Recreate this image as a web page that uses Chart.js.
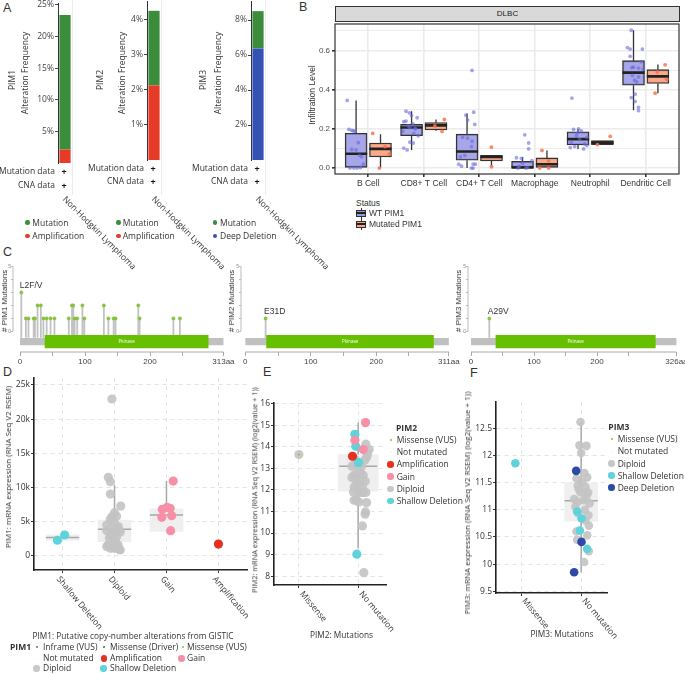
<!DOCTYPE html>
<html><head><meta charset="utf-8">
<script src="https://cdn.jsdelivr.net/npm/chart.js@4.4.0/dist/chart.umd.min.js"></script>
<style>
body{margin:0;background:#fff;}
#root{position:relative;width:685px;height:674px;overflow:hidden;font-family:'Open Sans',sans-serif;color:#333;background:#fff;}
.t{position:absolute;white-space:nowrap;line-height:1;}
canvas{position:absolute;}
</style></head><body><div id="root"></div>
<script>
// ================= DATA =================
// Panel A: cBioPortal alteration frequency (%)
const A_genes = ['PIM1', 'PIM2', 'PIM3'];
const A_cancer = ['Non-Hodgkin Lymphoma'];
const A_mutation = [21.28, 2.13, 2.13];
const A_cna = [2.13, 2.13, 6.38];
const A_cnaType = ['Amplification', 'Amplification', 'Deep Deletion'];
const A_yMax = [25.3, 4.54, 9.09];
const A_ticks = [[5, 10, 15, 20, 25], [1, 2, 3, 4], [2, 4, 6, 8]];

// Panel B: TIMER infiltration (box stats: [lowWhisker, q1, median, q3, highWhisker])
const B_cells = ['B Cell', 'CD8+ T Cell', 'CD4+ T Cell', 'Macrophage', 'Neutrophil', 'Dendritic Cell'];
const B_yTicks = [0, 0.1, 0.2, 0.3, 0.4, 0.5, 0.6, 0.7];
const B_wtBox = [
  [0.0, 0.0, 0.073, 0.178, 0.345],
  [0.093, 0.165, 0.207, 0.223, 0.29],
  [0.0, 0.04, 0.085, 0.173, 0.278],
  [0.0, 0.0, 0.003, 0.035, 0.057],
  [0.098, 0.118, 0.148, 0.185, 0.2],
  [0.295, 0.423, 0.487, 0.548, 0.703]
];
const B_mutBox = [
  [0.0, 0.057, 0.098, 0.128, 0.173],
  [0.19, 0.195, 0.218, 0.232, 0.248],
  [0.007, 0.037, 0.057, 0.065, 0.065],
  [0.0, 0.0, 0.02, 0.052, 0.09],
  [0.12, 0.12, 0.13, 0.14, 0.14],
  [0.382, 0.432, 0.468, 0.502, 0.528]
];
// jittered samples: [offset from category centre, value]
const B_wtPts = [
  [[-0.38,0.345],[-0.35,0.198],[-0.30,0.192],[-0.27,0.19],[-0.24,0.188],[-0.18,0.13],[-0.30,0.095],[-0.22,0.093],[-0.16,0.065],[-0.12,0.058],[-0.09,0.02],[-0.33,0.0],[-0.26,0.0],[-0.14,0.003],[-0.2,0.0]],
  [[-0.32,0.29],[-0.26,0.282],[-0.22,0.268],[-0.12,0.257],[-0.36,0.237],[-0.32,0.24],[-0.2,0.227],[-0.25,0.207],[-0.16,0.203],[-0.38,0.187],[-0.18,0.177],[-0.10,0.165],[-0.25,0.132],[-0.19,0.128],[-0.36,0.102],[-0.30,0.093],[-0.28,0.215],[-0.15,0.2]],
  [[-0.13,0.498],[-0.24,0.27],[-0.10,0.285],[-0.21,0.245],[-0.08,0.223],[-0.30,0.157],[-0.21,0.153],[-0.13,0.137],[-0.14,0.11],[-0.26,0.065],[-0.34,0.057],[-0.37,0.02],[-0.11,0.02],[-0.07,0.02],[-0.32,0.01],[-0.14,0.0],[-0.11,0.0]],
  [[-0.18,0.17],[-0.11,0.128],[-0.11,0.098],[-0.33,0.053],[-0.24,0.05],[-0.05,0.038],[-0.22,0.025],[-0.28,0.01],[-0.13,0.003],[-0.3,0.0],[-0.16,0.0]],
  [[-0.33,0.357],[-0.30,0.198],[-0.21,0.2],[-0.16,0.19],[-0.25,0.165],[-0.06,0.157],[-0.19,0.145],[-0.34,0.132],[-0.10,0.123],[-0.28,0.11],[-0.12,0.098],[-0.06,0.115],[-0.36,0.105],[-0.23,0.18]],
  [[-0.26,0.703],[-0.33,0.615],[-0.28,0.607],[-0.06,0.607],[-0.28,0.57],[-0.08,0.543],[-0.25,0.513],[-0.22,0.515],[-0.13,0.51],[-0.05,0.505],[-0.24,0.473],[-0.13,0.465],[-0.2,0.448],[-0.16,0.44],[-0.26,0.36],[-0.19,0.377],[-0.19,0.34],[-0.13,0.31],[-0.13,0.293]]
];
const B_mutPts = [
  [[0.08,0.177],[0.2,0.0],[0.38,0.072],[0.3,0.11]],
  [[0.37,0.248],[0.33,0.187],[0.2,0.215]],
  [[0.22,0.107],[0.22,0.007]],
  [[0.13,0.09],[0.25,0.037],[0.09,0.0],[0.25,0.0]],
  [[0.36,0.162],[0.13,0.12]],
  [[0.35,0.527],[0.21,0.49],[0.38,0.453],[0.17,0.382]]
];

// Panel C: lollipop plots
const C_genes = ['PIM1', 'PIM2', 'PIM3'];
const C_length = [313, 311, 326];
const C_kinase = [[38, 290], [32, 288], [39, 293]];
const C_pim1Pos = [2,9,13,21,23,27,32,36,41,47,53,75,80,82,84,88,96,99,129,136,144,147,182,184,236,246];
const C_pim1Cnt = [3,1,1,1,1,2,2,1,1,1,1,1,2,2,1,1,2,1,2,1,1,1,2,1,1,1];
const C_pim2Pos = [31], C_pim2Cnt = [1];
const C_pim3Pos = [29], C_pim3Cnt = [1];
const C_topLabel = ['L2F/V', 'E31D', 'A29V'];
const C_xTicks = [0, 50, 100, 150, 200, 250];

// Panel D: PIM1 expression vs CNA
const D_cats = ['Shallow Deletion', 'Diploid', 'Gain', 'Amplification'];
const D_box = [[2300,2300,2700,3100,3100],[880,2090,3900,5260,10340],[3600,3600,6000,6900,10960],null];
const D_yTicks = [0, 5000, 10000, 15000, 20000, 25000];
const D_shallow = [[-0.10,2300],[0.04,3070]];
const D_diploid = [[-0.05,22950],[-0.12,11500],[-0.08,10870],[-0.08,9060],[0.12,7300],[0.0,6330],[-0.05,5750],[0.04,5800],[-0.08,5360],[-0.15,4530],[0.0,4780],[0.07,4300],[-0.05,4050],[-0.15,3700],[0.0,3400],[0.11,3500],[-0.08,3070],[0.04,2830],[-0.02,2340],[-0.12,1600],[0.07,1600],[-0.08,1120],[0.0,1120],[0.11,880],[-0.15,1400],[0.09,1000],[0.02,2000],[-0.1,2600],[0.08,3900]];
const D_gain = [[0.13,10960],[-0.08,6830],[0.01,7100],[0.07,6970],[-0.09,5660],[0.1,5900],[0.08,3700]];
const D_amp = [[0.0,1750]];

// Panel E: PIM2 expression vs mutation  ([category index + jitter, value])
const E_cats = ['Missense', 'No mutation'];
const E_box = [null, [9.3, 11.94, 13.1, 13.64, 15.12]];
const E_amp = [[0.905,13.56]];
const E_gain = [[1.124,15.12],[0.945,14.3],[1.085,13.87]];
const E_shallow = [[0.945,14.58],[0.96,14.02],[1.005,13.27],[0.978,9.02]];
const E_diploid = [[0,13.64],[1.13,14.12],[1.158,13.64],[1.113,13.38],[1.057,13.1],[0.894,13.1],[1.0,12.91],[0.93,12.68],[1.085,12.68],[0.96,12.57],[0.894,12.57],[1.03,12.45],[0.972,12.26],[1.073,12.14],[0.933,12.14],[1.0,11.91],[0.93,11.52],[1.04,11.88],[1.085,11.88],[1.13,11.88],[0.972,11.52],[1.01,11.44],[1.141,11.41],[1.124,10.98],[1.118,10.87],[1.073,10.33],[1.096,8.16],[1.186,13.87],[1.141,13.5],[0.96,13.38],[1.04,12.8],[1.12,12.4],[0.92,11.9]];
const E_missense = [[0,13.64]];

// Panel F: PIM3 expression vs mutation
const F_cats = ['Missense', 'No mutation'];
const F_box = [null, [9.85, 10.79, 11.17, 11.5, 12.61]];
const F_yTicks = [9.5, 10, 10.5, 11, 11.5, 12, 12.5];
const F_shallow = [[-0.095,11.86],[0.933,10.97],[1.006,10.84],[0.978,10.62],[1.1,10.28]];
const F_deep = [[0.917,11.72],[1.006,10.41],[0.883,9.85]];
const F_diploid = [[0.989,12.62],[0.972,12.19],[1.089,12.18],[1.0,12.05],[1.055,11.68],[0.922,11.58],[1.1,11.6],[1.017,11.52],[0.944,11.45],[1.072,11.42],[0.989,11.32],[1.117,11.32],[1.089,11.25],[0.883,11.2],[0.944,11.15],[1.044,11.18],[1.139,11.12],[0.905,11.06],[0.95,10.94],[1.072,10.8],[1.128,10.71],[0.922,10.6],[1.1,10.53],[0.933,10.45],[1.128,10.24],[1.05,10.04],[1.06,11.0],[0.96,11.38],[1.12,10.9]];

// ================= HELPERS =================
const root = document.getElementById('root');
const OS = "'Open Sans', sans-serif", LS = "'Liberation Sans', Arial, sans-serif";
const COL = {mut:'#3b8c3b', amp:'#e63b26', del:'#3452b4', gain:'#f78fa7', shallow:'#5fd3dc', diploid:'#c8c8c8', deep:'#2d4aa8', red:'#e5311f'};

function T(str, x, y, o = {}) {
  const d = document.createElement('div');
  d.className = 't'; d.textContent = str;
  d.style.fontSize = (o.size || 8.5) + 'px';
  d.style.fontFamily = o.family || OS;
  if (o.bold) d.style.fontWeight = 'bold';
  d.style.color = o.color || '#333';
  d.style.left = x + 'px'; d.style.top = y + 'px';
  const ax = o.align === 'right' ? '-100%' : o.align === 'center' ? '-50%' : '0';
  d.style.transform = o.rot ? `translate(-50%,-50%) rotate(${o.rot}deg)` : `translate(${ax},-50%)`;
  root.appendChild(d);
}
function dot(x, y, r, color) {
  const d = document.createElement('div');
  d.style.cssText = `position:absolute;left:${x - r}px;top:${y - r}px;width:${2 * r}px;height:${2 * r}px;border-radius:50%;background:${color};`;
  root.appendChild(d);
}
function rect(x, y, w, h, css) {
  const d = document.createElement('div');
  d.style.cssText = `position:absolute;left:${x}px;top:${y}px;width:${w}px;height:${h}px;box-sizing:border-box;${css}`;
  root.appendChild(d);
  return d;
}
function segData(list) {
  const d = [];
  list.forEach(([x1, y1, x2, y2]) => { d.push({x: x1, y: y1}, {x: x2, y: y2}, {x: x2, y: null}); });
  return d;
}
function lineSet(list, color, width, order, extra) {
  return Object.assign({type: 'scatter', showLine: true, data: segData(list), borderColor: color, borderWidth: width,
    pointRadius: 0, spanGaps: false, order: order, borderCapStyle: 'butt'}, extra || {});
}
function ptSet(pts, color, r, order, extra) {
  return Object.assign({type: 'scatter', data: pts.map(p => ({x: p[0], y: p[1]})), backgroundColor: color,
    borderWidth: 0, pointRadius: r, order: order}, extra || {});
}

const annot = {
  id: 'annot',
  afterDatasetsDraw(chart, a, o) {
    if (!o || !o.items) return;
    const ctx = chart.ctx;
    o.items.forEach(it => {
      const x = chart.scales.x.getPixelForValue(it.x) + (it.dx || 0);
      const y = chart.scales.y.getPixelForValue(it.y) + (it.dy || 0);
      ctx.save(); ctx.font = it.font; ctx.fillStyle = it.color; ctx.textAlign = it.align || 'center'; ctx.textBaseline = 'middle';
      ctx.fillText(it.text, x, y); ctx.restore();
    });
  }
};
const rotLabels = {
  id: 'rotLabels',
  afterDraw(chart, a, o) {
    if (!o || !o.labels) return;
    const ctx = chart.ctx, xs = chart.scales.x, base = chart.chartArea.bottom;
    ctx.save(); ctx.font = o.font; ctx.fillStyle = o.color || '#333'; ctx.textAlign = 'left'; ctx.textBaseline = 'middle';
    o.labels.forEach((lab, i) => {
      const px = xs.getPixelForValue(i);
      ctx.save(); ctx.translate(px + o.dx, base + o.dy); ctx.rotate(o.angle * Math.PI / 180); ctx.fillText(lab, 0, 0); ctx.restore();
    });
    ctx.restore();
  }
};
const frame = {
  id: 'frame',
  afterDraw(chart, a, o) {
    if (!o || !o.color) return;
    const {left, top, right, bottom} = chart.chartArea, ctx = chart.ctx;
    ctx.save(); ctx.strokeStyle = o.color; ctx.lineWidth = o.width; ctx.strokeRect(left, top, right - left, bottom - top); ctx.restore();
  }
};
Chart.register(annot, rotLabels, frame);
Chart.defaults.font.family = OS;
Chart.defaults.color = '#333';

function mk(area, m, config) {
  const W = area.r - area.l + m.l + m.r, H = area.b - area.t + m.t + m.b;
  const c = document.createElement('canvas');
  c.width = W; c.height = H;
  c.style.left = (area.l - m.l) + 'px'; c.style.top = (area.t - m.t) + 'px';
  c.style.width = W + 'px'; c.style.height = H + 'px';
  root.appendChild(c);
  const o = config.options = config.options || {};
  o.responsive = false; o.animation = false; o.devicePixelRatio = 1;
  o.layout = {padding: {left: 0, top: m.t, right: m.r, bottom: 0}};
  o.plugins = Object.assign({legend: {display: false}, tooltip: {enabled: false}}, o.plugins || {});
  o.scales.x.afterFit = s => { s.height = m.b; s.paddingLeft = 0; s.paddingRight = 0; s.paddingTop = 0; s.paddingBottom = 0; };
  o.scales.y.afterFit = s => { s.width = m.l; s.paddingTop = 0; s.paddingBottom = 0; s.paddingLeft = 0; s.paddingRight = 0; };
  return new Chart(c, config);
}
function boxSets(stats, xStart, off, wUnits, thick, fill, stroke, medColor, lw, medW, orderBase) {
  const bars = [], wh = [], med = [];
  stats.forEach((s, i) => {
    if (!s) return;
    const c = xStart + i + off;
    bars.push({x: c, y: [s[1], s[3]]});
    wh.push([c, s[3], c, s[4]], [c, s[0], c, s[1]]);
    med.push([c - wUnits / 2, s[2], c + wUnits / 2, s[2]]);
  });
  return [
    {type: 'bar', data: bars, backgroundColor: fill, borderColor: stroke, borderWidth: stroke ? lw : 0, borderSkipped: false,
      barThickness: thick, grouped: false, order: orderBase + 2},
    lineSet(wh, stroke || medColor, lw, orderBase + 1),
    lineSet(med, medColor, medW, orderBase)
  ];
}

// ================= PANEL LETTERS =================
T('A', 3, 8, {size: 12.5, family: LS});
T('B', 299, 7, {size: 12.5, family: LS});
T('C', 3, 252, {size: 12.5, family: LS});
T('D', 3, 372, {size: 12.5, family: LS});
T('E', 263, 372, {size: 12.5, family: LS});
T('F', 470, 373, {size: 12.5, family: LS});

// ================= PANEL A =================
const A_lay = [{ax: 58, t: 3, b: 163, lab: [12, 25], my: 171}, {ax: 147, t: 1, b: 160, lab: [100, 121.7], my: 167.7}, {ax: 251, t: 1, b: 160, lab: [203, 218.3], my: 167.7}];
A_genes.forEach((g, k) => {
  const L = A_lay[k];
  rect(L.ax + 14, 0, 1, 195, 'background:#ececec;');
  mk({l: L.ax, t: L.t, r: L.ax + 14, b: L.b}, {l: 50, t: 8, r: 75, b: 110}, {
    type: 'bar',
    data: {labels: A_cancer, datasets: [
      {label: A_cnaType[k], data: [A_cna[k]], backgroundColor: k === 2 ? COL.del : COL.amp, barPercentage: 0.8, categoryPercentage: 1},
      {label: 'Mutation', data: [A_mutation[k]], backgroundColor: COL.mut, barPercentage: 0.8, categoryPercentage: 1}
    ]},
    options: {
      scales: {
        x: {stacked: true, ticks: {display: false}, grid: {display: false}, border: {display: false}},
        y: {stacked: true, min: 0, max: A_yMax[k],
          afterBuildTicks: s => { s.ticks = A_ticks[k].map(v => ({value: v})); },
          ticks: {callback: v => v + '%', font: {size: 8.5}, color: '#444', padding: 1},
          grid: {drawOnChartArea: false, tickLength: 3, tickColor: '#444'}, border: {color: '#333', width: 1}}
      },
      plugins: {rotLabels: {labels: A_cancer, angle: 45, dx: -1, dy: 36 + (k === 0 ? -1 : 2), font: "8.5px 'Open Sans'", color: '#333'}}
    }
  });
  T(g, L.lab[0], 80, {rot: -90, size: 8.5});
  T('Alteration Frequency', L.lab[1], 73, {rot: -90, size: 8.5});
  const ry = L.my;
  T('Mutation data', L.ax - 3, ry, {align: 'right', size: 8.5});
  T('CNA data', L.ax - 3, ry + 13.5, {align: 'right', size: 8.5});
  T('+', L.ax + 6, ry, {align: 'center', size: 9, bold: true, color: '#111'});
  T('+', L.ax + 6, ry + 13.5, {align: 'center', size: 9, bold: true, color: '#111'});
});
[[27.3, 32.3, COL.amp, 'Amplification'], [118.3, 122.7, COL.amp, 'Amplification'], [215, 220, COL.del, 'Deep Deletion']].forEach(r => {
  dot(r[0], 222.7, 2.3, COL.mut); T('Mutation', r[1], 222.7, {size: 8.5});
  dot(r[0], 236, 2.3, r[2]); T(r[3], r[1], 236, {size: 8.5});
});

// ================= PANEL B =================
rect(335, 6, 345, 16, 'background:#d9d9d9;border:1px solid #333;');
T('DLBC', 507.5, 13.5, {align: 'center', size: 8, family: LS, color: '#1a1a1a'});
T('Infiltration Level', 312, 95, {rot: -90, size: 8.5, family: LS});
const bWT = boxSets(B_wtBox, 1, -0.22, 0.4, 22, 'rgba(150,150,228,0.85)', '#333', '#222', 1.3, 2.6, 1);
const bMut = boxSets(B_mutBox, 1, 0.22, 0.4, 22, 'rgba(250,160,125,0.9)', '#333', '#222', 1.3, 2.6, 1);
const flatPts = (arr) => { const o = []; arr.forEach((cat, i) => cat.forEach(p => o.push([i + 1 + p[0], p[1]]))); return o; };
mk({l: 335, t: 22, r: 680, b: 174}, {l: 30, t: 2, r: 3, b: 22}, {
  type: 'scatter',
  data: {datasets: [
    ptSet(flatPts(B_wtPts), 'rgba(105,105,222,0.6)', 1.9, 0),
    ptSet(flatPts(B_mutPts), 'rgba(250,115,80,0.85)', 1.9, 0),
    ...bWT, ...bMut
  ]},
  options: {
    scales: {
      x: {type: 'linear', min: 0.4, max: 6.6, offset: false,
        afterBuildTicks: s => { s.ticks = B_cells.map((c, i) => ({value: i + 1})); },
        ticks: {callback: v => B_cells[Math.round(v) - 1], font: {family: LS, size: 8.5}, color: '#333', padding: 2, autoSkip: false, maxRotation: 0},
        grid: {offset: false, color: '#ebebeb', lineWidth: 1.6, tickLength: 3, tickColor: '#333'}, border: {display: false}},
      y: {type: 'linear', min: -0.03, max: 0.735,
        afterBuildTicks: s => { s.ticks = B_yTicks.map(v => ({value: v})); },
        ticks: {callback: v => (Math.round(v * 10) % 2 === 0 ? v.toFixed(1) : ''), font: {family: LS, size: 8}, color: '#4d4d4d', padding: 2},
        grid: {color: '#ebebeb', lineWidth: c => (c.tick && Math.round(c.tick.value * 10) % 2 === 0 ? 1.6 : 0.9),
          tickLength: 3, tickColor: c => (c.tick && Math.round(c.tick.value * 10) % 2 === 0 ? '#333' : 'rgba(0,0,0,0)')},
        border: {display: false}}
    },
    plugins: {frame: {color: '#333', width: 1.2}}
  }
});
T('Status', 356, 203, {size: 8.5, family: LS});
[[213, 'rgba(150,150,228,0.95)', 'WT PIM1'], [224, 'rgba(250,160,125,0.95)', 'Mutated PIM1']].forEach(r => {
  rect(360.5, r[0] - 5.5, 1, 11, 'background:#333;');
  rect(356, r[0] - 3.5, 10, 7, `background:${r[1]};border:1px solid #333;`);
  rect(356, r[0] - 0.7, 10, 1.5, 'background:#222;');
  T(r[2], 369, r[0], {size: 8.5, family: LS});
});

// ================= PANEL C =================
const C_pos = [C_pim1Pos, C_pim2Pos, C_pim3Pos];
const C_cnt = [C_pim1Cnt, C_pim2Cnt, C_pim3Cnt];
const C_lay = [{l: 13, r: 225, xmin: -10.8, xmax: 315.4, tx: 4.5}, {l: 241, r: 451, xmin: -6.6, xmax: 314.3, tx: 232}, {l: 468, r: 677, xmin: -4.8, xmax: 326.9, tx: 459}];
C_genes.forEach((g, k) => {
  const L = C_lay[k], len = C_length[k], kin = C_kinase[k];
  const pos = C_pos[k], cnt = C_cnt[k];
  const YMIN = -1.585, BAR = -0.78, STICK0 = -0.49;
  let top = 0; pos.forEach((p, i) => { if (cnt[i] > cnt[top]) top = i; });
  mk({l: L.l, t: 266, r: L.r, b: 352}, {l: 8, t: 4, r: 14, b: 16}, {
    type: 'scatter',
    data: {datasets: [
      ptSet(pos.map((p, i) => [p, cnt[i]]), '#8cc63f', 1.6, 0, {borderColor: '#76b82a', borderWidth: 0.5}),
      lineSet(pos.map((p, i) => [p, STICK0, p, cnt[i]]), '#c2c2c2', 1.8, 3),
      lineSet([[kin[0], BAR, kin[1], BAR]], '#66c000', 13.3, 1),
      lineSet([[0, BAR, len, BAR]], '#c0c0c0', 7.3, 2),
      lineSet([[0, YMIN, len, YMIN]], '#aaa', 1, 4, {clip: false}),
      lineSet([[L.xmin, 0, L.xmin, 5]], '#bbb', 1, 4, {clip: false})
    ]},
    options: {
      scales: {
        x: {type: 'linear', min: L.xmin, max: L.xmax, offset: false,
          afterBuildTicks: s => { s.ticks = C_xTicks.concat([len]).map(v => ({value: v})); },
          ticks: {callback: v => (v === len ? v + 'aa' : (v % 100 === 0 ? String(v) : '')), font: {family: LS, size: 8}, color: '#444', padding: 1, autoSkip: false, maxRotation: 0},
          grid: {drawOnChartArea: false, tickLength: 4, tickColor: '#aaa'}, border: {display: false}},
        y: {type: 'linear', min: YMIN, max: 5,
          afterBuildTicks: s => { s.ticks = [0, 1, 2, 3, 4, 5].map(v => ({value: v})); },
          ticks: {callback: v => (v === 0 || v === 5 ? String(v) : ''), font: {family: LS, size: 5}, color: '#888', padding: 0},
          grid: {drawOnChartArea: false, tickLength: 2, tickColor: '#bbb'}, border: {display: false}}
      },
      plugins: {annot: {items: [
        {x: (kin[0] + kin[1]) / 2, y: BAR, text: 'Pkinase', font: "4.5px 'Open Sans'", color: '#fff'},
        {x: pos[top], y: cnt[top], dx: -1.5, dy: -6.5, text: C_topLabel[k], font: "8.5px 'Liberation Sans'", color: '#333', align: 'left'}
      ]}}
    }
  });
  T('# ' + g + ' Mutations', L.tx, 301, {rot: -90, size: 8, family: LS});
});

// ================= PANELS D, E, F =================
function exprChart(cfg) {
  const ds = [];
  cfg.points.forEach(p => ds.push(ptSet(p.data, p.color, cfg.r, 0)));
  if (cfg.marks) cfg.marks.forEach(p => ds.push(ptSet(p.data, p.color, 1.1, -1)));
  ds.push(...boxSets(cfg.box, 0, 0, cfg.capW, cfg.thick, '#efefef', null, '#a8a8a8', 1.5, 1.5, 1));
  return mk(cfg.area, cfg.m, {
    type: 'scatter',
    data: {datasets: ds},
    options: {
      scales: {
        x: {type: 'linear', min: cfg.xr[0], max: cfg.xr[1], offset: false,
          afterBuildTicks: s => { s.ticks = cfg.cats.map((c, i) => ({value: i})); },
          ticks: {display: false},
          grid: {offset: false, color: '#e4e4e4', lineWidth: 1, tickLength: 3, tickColor: '#333'},
          border: {color: '#222', width: 1.6, dash: [4, 4]}},
        y: {type: 'linear', min: cfg.yr[0], max: cfg.yr[1],
          afterBuildTicks: s => { s.ticks = cfg.yTicks.map(v => ({value: v})); },
          ticks: {callback: cfg.yFmt, font: {size: 8.5}, color: '#333', padding: 1},
          grid: {color: '#e4e4e4', lineWidth: 1, tickLength: 3, tickColor: '#333'},
          border: {color: '#222', width: 1.6, dash: [4, 4]}}
      },
      plugins: {rotLabels: {labels: cfg.cats, angle: 50, dx: cfg.ldx, dy: cfg.ldy, font: "8.5px 'Open Sans'", color: '#333'}}
    }
  });
}
const jit = (arr, c) => arr.map(p => [c + p[0], p[1]]);
exprChart({
  area: {l: 34, t: 378, r: 247, b: 570}, m: {l: 34, t: 6, r: 12, b: 72},
  xr: [-0.55, 3.55], yr: [-2047, 26023], yTicks: D_yTicks, yFmt: v => (v === 0 ? '0' : (v / 1000) + 'k'),
  cats: D_cats, box: D_box, capW: 0.64, thick: 33, r: 4.6, ldx: -4.4, ldy: 7.7,
  points: [{data: jit(D_shallow, 0), color: COL.shallow}, {data: jit(D_diploid, 1), color: 'rgba(195,195,195,0.9)'},
    {data: jit(D_gain, 2), color: COL.gain}, {data: jit(D_amp, 3), color: COL.red}]
});
exprChart({
  area: {l: 274, t: 403, r: 386, b: 585}, m: {l: 22, t: 6, r: 14, b: 60},
  xr: [-0.42, 1.47], yr: [7.59, 16.03], yTicks: [8, 9, 10, 11, 12, 13, 14, 15, 16], yFmt: v => String(v),
  cats: E_cats, box: E_box, capW: 0.64, thick: 40, r: 4.6, ldx: 2.5, ldy: 7.5,
  points: [{data: E_amp, color: COL.red}, {data: E_gain, color: COL.gain}, {data: E_shallow, color: COL.shallow}, {data: E_diploid, color: 'rgba(195,195,195,0.9)'}],
  marks: [{data: E_missense, color: '#7ccf2f'}]
});
exprChart({
  area: {l: 496, t: 402, r: 607, b: 593}, m: {l: 26, t: 6, r: 14, b: 50},
  xr: [-0.417, 1.43], yr: [9.467, 12.99], yTicks: F_yTicks, yFmt: v => String(+v.toFixed(1)),
  cats: F_cats, box: F_box, capW: 0.55, thick: 33, r: 4.3, ldx: 2.5, ldy: 6.5,
  points: [{data: F_deep, color: COL.deep}, {data: F_shallow, color: COL.shallow}, {data: F_diploid, color: 'rgba(195,195,195,0.9)'}]
});

// axis titles
T('PIM1: mRNA expression (RNA Seq V2 RSEM)', 7.5, 467, {rot: -90, size: 8});
T('PIM1: Putative copy-number alterations from GISTIC', 133, 636, {align: 'center', size: 8.3});
T('PIM2: mRNA expression (RNA Seq V2 RSEM) (log2(value + 1))', 255, 490, {rot: -90, size: 7.4});
T('PIM2: Mutations', 341.5, 635, {align: 'center', size: 8.3});
T('PIM3: mRNA expression (RNA Seq V2 RSEM) (log2(value + 1))', 466.5, 503, {rot: -90, size: 8});
T('PIM3: Mutations', 562, 634, {align: 'center', size: 8.3});

// legends D
T('PIM1', 10, 647.3, {size: 8.5, bold: true});
dot(37.3, 647.3, 1, '#a0622b'); T('Inframe (VUS)', 43, 647.3, {size: 8.5});
dot(104, 647.3, 1, '#1e8a1e'); T('Missense (Driver)', 110, 647.3, {size: 8.5});
dot(182.7, 647.3, 1, '#7ccf2f'); T('Missense (VUS)', 187, 647.3, {size: 8.5});
dot(37.3, 658.3, 0.8, '#e8e8e8'); T('Not mutated', 43, 658.3, {size: 8.5});
dot(104, 658.3, 3.3, COL.red); T('Amplification', 110, 658.3, {size: 8.5});
dot(181.7, 658.3, 3.3, COL.gain); T('Gain', 187, 658.3, {size: 8.5});
dot(36.7, 668.3, 3.3, '#c8c8c8'); T('Diploid', 43, 668.3, {size: 8.5});
dot(103.3, 668.3, 3.3, COL.shallow); T('Shallow Deletion', 110, 668.3, {size: 8.5});
// legend E
T('PIM2', 396, 428, {size: 8.5, bold: true});
[['Missense (VUS)', '#7ccf2f', 1], ['Not mutated', '#e8e8e8', 0.8], ['Amplification', COL.red, 3.3], ['Gain', COL.gain, 3.3], ['Diploid', '#c8c8c8', 3.3], ['Shallow Deletion', COL.shallow, 3.3]].forEach((r, i) => {
  const y = 440 + i * 12.2; dot(390.7, y, r[2], r[1]); T(r[0], 396.7, y, {size: 8.5});
});
// legend F
T('PIM3', 608.3, 427.3, {size: 8.5, bold: true});
[['Missense (VUS)', '#7ccf2f', 1], ['Not mutated', '#e8e8e8', 0.8], ['Diploid', '#c8c8c8', 3.3], ['Shallow Deletion', COL.shallow, 3.3], ['Deep Deletion', COL.deep, 3.3]].forEach((r, i) => {
  const y = 439.3 + i * 12.1; dot(611.7, y, r[2], r[1]); T(r[0], 617.7, y, {size: 8.5});
});
</script></body></html>
